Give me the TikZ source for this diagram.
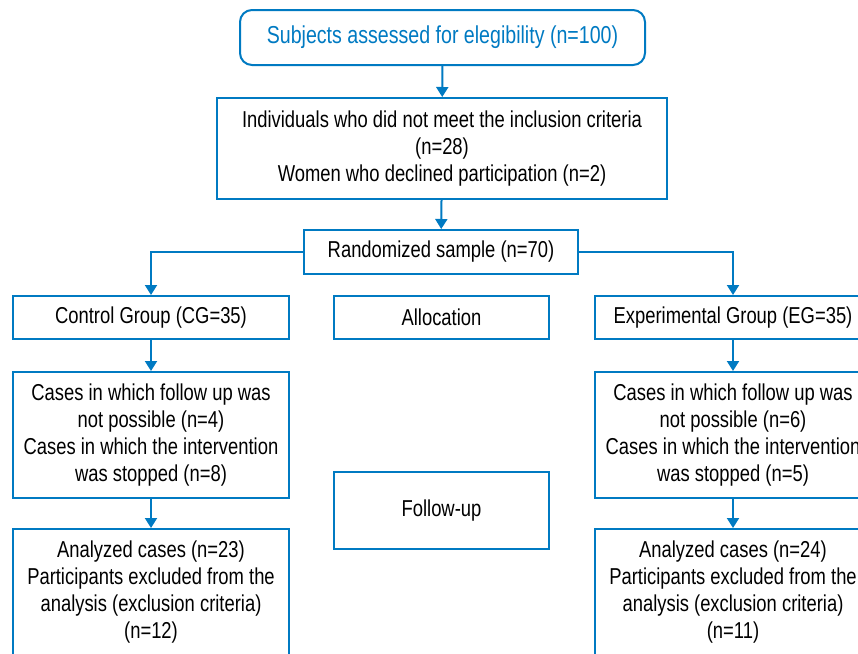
\documentclass[tikz,border=0pt]{standalone}
\usepackage{fontspec}
\setmainfont{Liberation Sans}[FakeStretch=0.8]
\usetikzlibrary{arrows.meta}
\definecolor{flowblue}{RGB}{0,122,194}

\begin{document}
\begin{tikzpicture}[x=1pt,y=-1pt]
\tikzstyle{every node}=[font=\fontsize{23}{27}\selectfont, align=center, inner sep=0pt]
\tikzstyle{box}=[draw=flowblue, line width=2pt]
\tikzstyle{arr}=[draw=flowblue, line width=2pt, -{Triangle[length=10pt,width=12pt]}]

\useasboundingbox (0,0) rectangle (858,653);
\clip (0,0) rectangle (858,653);

\path (442,0) coordinate (ct);

\path (ct) +(0.5,37.5) node[box, rounded corners=12pt, text=flowblue,
font=\fontsize{24.5}{27}\selectfont, minimum width=405pt, minimum height=55pt] (ct_1)
{Subjects assessed for elegibility (n=100)}; \path (ct) +(0,148.5)
node[box, minimum width=450pt, minimum height=101pt] (ct_2)
{Individuals who did not meet the inclusion criteria\\(n=28)\\Women who declined participation (n=2)};
\path (ct) +(-1,252) node[box, minimum width=274pt, minimum height=44pt]
(ct_3) {Randomized sample (n=70)};

\path (151,0) coordinate (cl);

\path (cl) +(0,317.5) node[box, minimum width=276pt, minimum height=43pt]
(cl_1) {Control Group (CG=35)}; \path (cl) +(0,435) node[box,
minimum width=276pt, minimum height=126pt] (cl_2)
{Cases in which follow up was\\not possible (n=4)\\Cases in which the intervention\\was stopped (n=8)};
\path (cl) +(0,592) node[box, minimum width=276pt, minimum height=126pt]
(cl_3) {Analyzed cases (n=23)\\Participants excluded from the\\analysis (exclusion criteria)\\(n=12)};

\path (441.5,0) coordinate (cm);

\path (cm) +(0,317.5) node[box, minimum width=215pt, minimum height=43pt]
(cm_1) {Allocation}; \path (cm) +(0,510.5) node[box,
minimum width=215pt, minimum height=77pt] (cm_2) {Follow-up};

\path (733,0) coordinate (cr);

\path (cr) +(0,317.5) node[box, minimum width=276pt, minimum height=43pt]
(cr_1) {Experimental Group (EG=35)}; \path (cr) +(0,435) node[box,
minimum width=276pt, minimum height=126pt] (cr_2)
{Cases in which follow up was\\not possible (n=6)\\Cases in which the intervention\\was stopped (n=5)};
\path (cr) +(0,592) node[box, minimum width=276pt, minimum height=126pt]
(cr_3) {Analyzed cases (n=24)\\Participants excluded from the\\analysis (exclusion criteria)\\(n=11)};

\foreach \From/\To in {ct_1/ct_2,ct_2/ct_3,cl_1/cl_2,cl_2/cl_3,cr_1/cr_2,cr_2/cr_3}{
    \draw[arr] (\From) -- (\To);
}

\draw[arr] (ct_3.west) -| (cl_1.north);
\draw[arr] (ct_3.east) -| (cr_1.north);
\end{tikzpicture}
\end{document}
